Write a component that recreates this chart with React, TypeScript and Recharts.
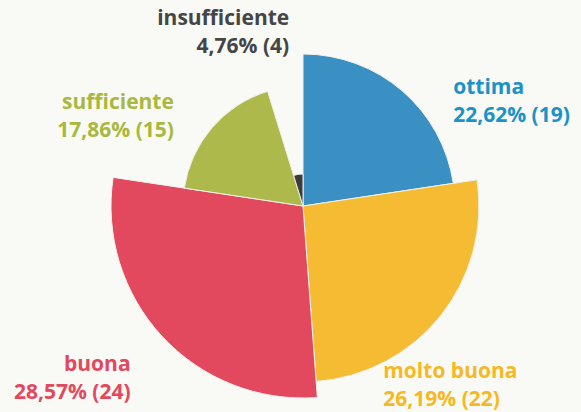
import { PieChart, Pie, Cell } from "recharts";

const categories = ["ottima", "molto buona", "buona", "sufficiente", "insufficiente"];
const counts = [19, 22, 24, 15, 4];
const percents = ["22,62%", "26,19%", "28,57%", "17,86%", "4,76%"];

const SLICE_COLORS = ["#3a8fc3", "#f5bc33", "#e2485e", "#adb94b", "#3c3c3c"];
const TEXT_COLORS = ["#1b92c8", "#f5b923", "#e2485e", "#a9b83e", "#454545"];
// nudges that move each label from the default mid-angle spot
const LABEL_NUDGE: [number, number][] = [
  [38, 11],
  [-73, 42],
  [-17, 13],
  [-23, -13],
  [-6, -137],
];

const W = 581;
const H = 412;
const CX = 303;
const CY = 206;
const RADIUS_PER_UNIT = 8;
const RAD = Math.PI / 180;

const total = counts.reduce((a, b) => a + b, 0);

export default function App() {
  let acc = 0;
  const slices = categories.map((name, i) => {
    const start = 90 - (360 * acc) / total;
    acc += counts[i];
    const end = 90 - (360 * acc) / total;
    return { name, value: counts[i], start, end, idx: i };
  });

  const renderLabel = (i: number) => (props: any) => {
    const { cx, cy, midAngle, outerRadius } = props;
    const r = outerRadius + 20;
    const cos = Math.cos(-midAngle * RAD);
    const x = cx + r * cos + LABEL_NUDGE[i][0];
    const y = cy + r * Math.sin(-midAngle * RAD) + LABEL_NUDGE[i][1];
    const anchor = cos > 0 ? "start" : "end";
    return (
      <text
        x={x}
        y={y}
        textAnchor={anchor}
        fill={TEXT_COLORS[i]}
        fontFamily="'Open Sans', sans-serif"
        fontWeight={700}
        fontSize={21}
      >
        <tspan x={x} dy="0.35em">{categories[i]}</tspan>
        <tspan x={x} dy={28}>{`${percents[i]} (${counts[i]})`}</tspan>
      </text>
    );
  };

  return (
    <div style={{ width: W, height: H, background: "#f9f9f6" }}>
      <style>{`body{margin:0}`}</style>
      <PieChart width={W} height={H} margin={{ top: 0, right: 0, bottom: 0, left: 0 }}>
        {slices.map((s) => (
          <Pie
            key={s.name}
            data={[s]}
            dataKey="value"
            nameKey="name"
            cx={CX}
            cy={CY}
            startAngle={s.start}
            endAngle={s.end}
            innerRadius={0}
            outerRadius={s.value * RADIUS_PER_UNIT}
            stroke="#f1f1ec"
            strokeWidth={1}
            label={renderLabel(s.idx)}
            labelLine={false}
            isAnimationActive={false}
          >
            <Cell fill={SLICE_COLORS[s.idx]} />
          </Pie>
        ))}
      </PieChart>
    </div>
  );
}
